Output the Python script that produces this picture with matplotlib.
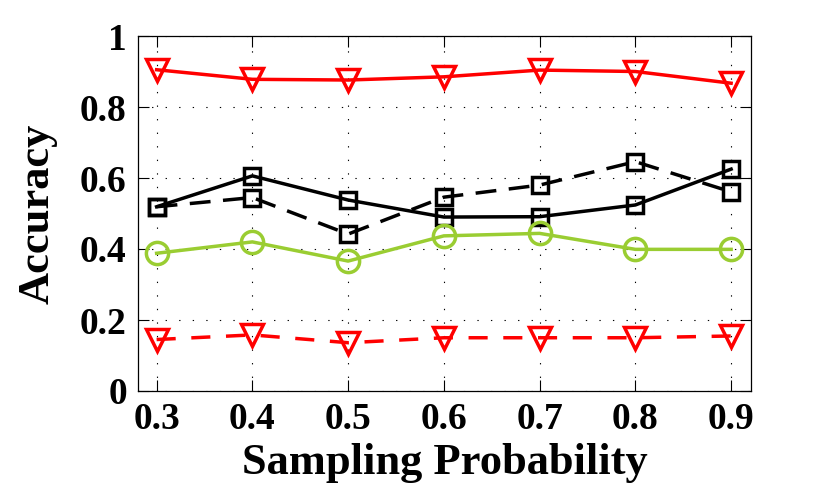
import matplotlib
matplotlib.use("Agg")
import matplotlib.pyplot as plt

x = [0.3, 0.4, 0.5, 0.6, 0.7, 0.8, 0.9]
red_solid = [0.905, 0.878, 0.876, 0.885, 0.904, 0.900, 0.867]
black_solid = [0.519, 0.606, 0.538, 0.490, 0.491, 0.524, 0.625]
black_dashed = [0.519, 0.545, 0.442, 0.546, 0.580, 0.646, 0.561]
green_solid = [0.388, 0.420, 0.366, 0.437, 0.444, 0.399, 0.399]
red_dashed = [0.145, 0.158, 0.136, 0.150, 0.150, 0.150, 0.155]

xticks = [0.3, 0.4, 0.5, 0.6, 0.7, 0.8, 0.9]
xticklabels = ["0.3", "0.4", "0.5", "0.6", "0.7", "0.8", "0.9"]
yticks = [0, 0.2, 0.4, 0.6, 0.8, 1.0]
yticklabels = ["0", "0.2", "0.4", "0.6", "0.8", "1"]

plt.rcParams['font.family'] = ['Liberation Serif', 'DejaVu Serif']
plt.rcParams['font.weight'] = 'bold'

fig = plt.figure(figsize=(8.31, 5.0), dpi=100)
ax = fig.add_axes([0.166, 0.218, 0.738, 0.710])

lw = 2.5
mew = 2.5
green = '#9ACD32'

ax.plot(x, red_solid, color='red', lw=lw, marker='v', ms=16, mfc='none', mew=mew, zorder=3)
ax.plot(x, black_solid, color='black', lw=lw, marker='s', ms=11, mfc='none', mew=mew, zorder=3)
ax.plot(x, black_dashed, color='black', lw=lw, ls=(0, (6, 3.6)), marker='s', ms=11, mfc='none', mew=mew, zorder=3)
ax.plot(x, green_solid, color=green, lw=lw, marker='o', ms=16, mfc='none', mew=mew, zorder=3)
ax.plot(x, red_dashed, color='red', lw=lw, ls=(0, (5.5, 4.5)), marker='v', ms=16, mfc='none', mew=mew, zorder=3)

ax.set_xlim(0.2805, 0.921)
ax.set_ylim(0, 1)
ax.set_xticks(xticks)
ax.set_xticklabels(xticklabels)
ax.set_yticks(yticks)
ax.set_yticklabels(yticklabels)

ax.grid(True, color='black', lw=0.8, ls=(0, (1.2, 11)))
ax.set_axisbelow(True)

ax.tick_params(direction='in', length=8, width=0.8, top=True, right=True,
               labelsize=27, pad=8)
for lab in ax.get_xticklabels() + ax.get_yticklabels():
    lab.set_fontweight('bold')
for s in ax.spines.values():
    s.set_linewidth(0.9)

ax.set_xlabel("Sampling Probability", fontsize=32, fontweight='bold', labelpad=4)
ax.set_ylabel("Accuracy", fontsize=32, fontweight='bold', labelpad=16)

fig.savefig("out.png", dpi=100)
